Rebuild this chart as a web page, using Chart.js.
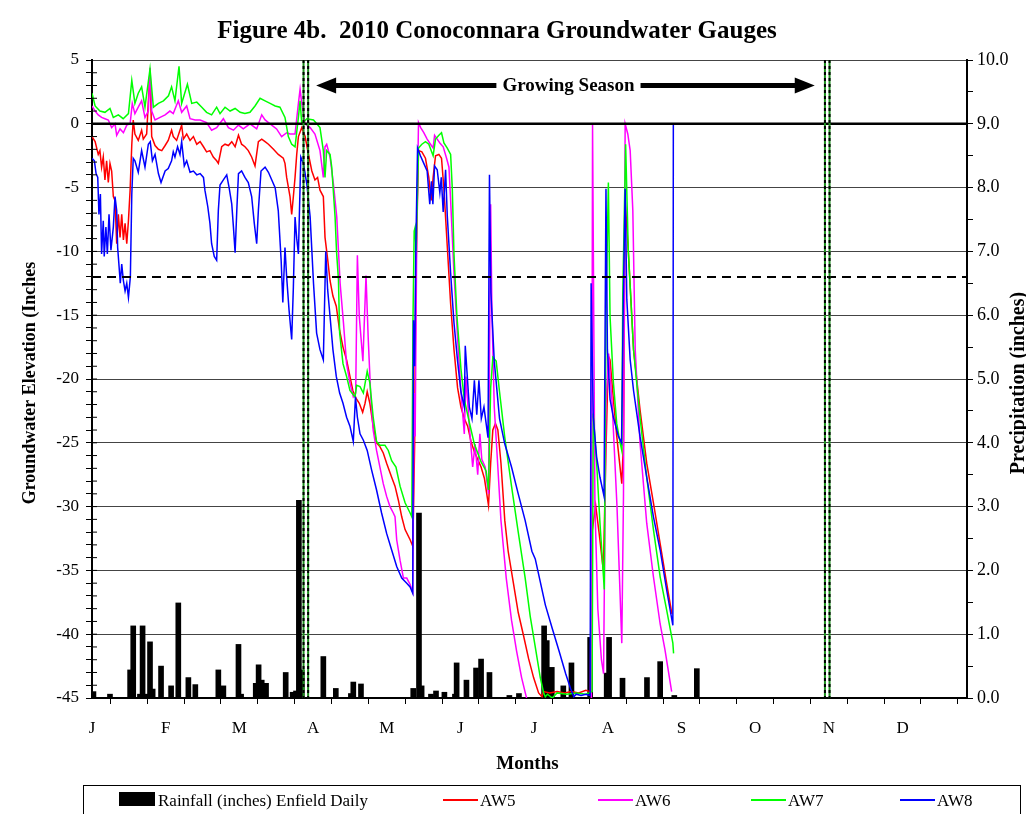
<!DOCTYPE html>
<html>
<head>
<meta charset="utf-8">
<title>Figure 4b. 2010 Conoconnara Groundwater Gauges</title>
<script src="https://cdn.jsdelivr.net/npm/chart.js@4.4.0/dist/chart.umd.min.js"></script>
<style>
  body { margin: 0; background: #fff; }
</style>
</head>
<body>
<canvas id="myChart" width="1026" height="814"></canvas>
<script>
// x = day of 2010 (0 = Jan 1), left axis = groundwater elevation (inches), right axis = rain (inches)
const monthLabels = ['J', 'F', 'M', 'A', 'M', 'J', 'J', 'A', 'S', 'O', 'N', 'D'];
const seriesNames = ['Rainfall (inches) Enfield Daily', 'AW5', 'AW6', 'AW7', 'AW8'];

const rainfall = [[0.6,0.1],[7.5,0.06],[15.9,0.44],[17.2,1.13],[20,0.06],[21.1,1.13],[22.3,0.06],[24.2,0.88],[25.3,0.14],[28.8,0.5],[33,0.19],[36,1.49],[40.2,0.32],[43.1,0.21],[52.7,0.44],[54.8,0.19],[61.1,0.84],[62.2,0.06],[68.3,0.23],[69.5,0.52],[70.8,0.28],[72.6,0.23],[80.8,0.4],[83.7,0.09],[85.1,0.11],[86.3,3.1],[87.5,0.44],[96.5,0.65],[101.7,0.15],[108,0.07],[109,0.25],[112.2,0.22],[134,0.15],[136.4,2.9],[137.5,0.19],[141.4,0.06],[143.5,0.11],[147,0.09],[151.4,0.06],[152.1,0.55],[156.2,0.28],[160.2,0.47],[162.3,0.61],[165.8,0.4],[174.1,0.04],[178.1,0.07],[188.6,1.13],[189.7,0.9],[191.8,0.48],[196.6,0.19],[200,0.55],[207.8,0.95],[214.7,0.39],[215.7,0.95],[221.3,0.31],[231.5,0.32],[237,0.57],[242.9,0.04],[252.3,0.46]];

const aw5 = [[0,-1.0],[1.3,-1.4],[2.6,-2.4],[3.3,-2.1],[4,-3.4],[4.7,-2.6],[5.4,-4.4],[6.1,-2.9],[6.8,-4.6],[7.5,-3.1],[8.2,-3.7],[8.9,-5.7],[9.6,-6.0],[10.3,-9.4],[11,-7.1],[11.7,-8.9],[12.4,-7.1],[13.1,-9.1],[13.8,-7.8],[14.5,-9.4],[15.2,-7.6],[15.9,-5.2],[16.6,-1.6],[17.2,0.3],[17.9,-0.8],[19.3,-1.3],[20.7,-0.5],[21.4,-1.2],[22.8,-0.8],[24.2,4.2],[24.9,-1.0],[26.3,-1.7],[27.7,-2.0],[29.1,-2.1],[30.5,-1.7],[31.8,-1.3],[33.2,-0.5],[33.9,-1.0],[35.3,-1.3],[36.7,-0.5],[37.4,-0.1],[38.1,-1.2],[39.5,-0.8],[40.9,-1.3],[42.3,-1.0],[43.7,-1.6],[45.1,-1.4],[46.5,-1.8],[47.8,-2.2],[49.2,-2.1],[50.6,-2.6],[52,-2.9],[52.7,-3.1],[54.1,-1.8],[55.5,-1.6],[56.9,-1.7],[58.3,-1.4],[59.7,-1.8],[61.1,-0.9],[62.4,-1.6],[63.8,-1.8],[65.2,-2.1],[66.6,-2.6],[68,-3.3],[69.4,-1.4],[70.8,-1.2],[72.2,-1.4],[73.6,-1.6],[75.7,-2.0],[77.7,-2.4],[79.8,-2.7],[80.5,-3.1],[81.2,-4.2],[82.6,-5.7],[83.3,-7.1],[84,-5.7],[84.7,-4.2],[85.4,-2.4],[86.1,-1.0],[87.5,-0.3],[88.9,-1.0],[90.3,-2.4],[91.7,-3.7],[93,-4.4],[94.1,-4.2],[95.1,-5.2],[96.5,-5.7],[97.2,-8.9],[98.3,-10.6],[99.3,-12.3],[100.5,-13.5],[101.9,-14.3],[103.3,-16.2],[104.7,-17.5],[106.2,-18.5],[107.6,-19.8],[108.8,-20.9],[110.1,-21.5],[111.5,-21.9],[112.9,-22.6],[113.9,-21.9],[114.8,-21.0],[115.9,-21.9],[117.3,-23.7],[118.7,-25.0],[120.1,-25.3],[121.5,-25.8],[122.9,-26.6],[125,-27.7],[126.4,-28.4],[127.8,-29.5],[129.2,-30.8],[130.6,-31.8],[132.7,-32.6],[133.8,-33.1],[134.1,-30.3],[134.6,-25.0],[135,-13.0],[136.2,-2.1],[137.6,-2.2],[139.1,-2.7],[140.5,-4.2],[141.5,-6.0],[142.3,-4.2],[143.3,-2.5],[144.7,-2.4],[145.8,-2.7],[146.8,-5.1],[148.2,-9.6],[149.6,-14.1],[151,-17.7],[152.5,-20.7],[153.9,-22.2],[155.3,-23.1],[156.7,-23.7],[158.1,-24.9],[159.5,-25.7],[160.9,-26.3],[162.3,-26.9],[163.7,-27.8],[165.4,-29.9],[166.3,-26.6],[167.2,-24.0],[168.3,-23.5],[169.3,-24.0],[170.6,-26.6],[172.2,-31.1],[173.6,-33.5],[175.7,-35.9],[177.8,-38.3],[180,-40.1],[182.1,-41.9],[184.2,-43.4],[186.3,-44.6],[187.7,-44.9],[188.3,-44.5],[191,-44.6],[194,-44.5],[197,-44.6],[200,-44.5],[203,-44.6],[206,-44.4],[207.8,-44.5],[208.6,-32.0],[210.1,-29.9],[211.5,-32.0],[213.3,-35.0],[214.4,-25.6],[215.4,-18.2],[216.1,-18.5],[217.5,-21.6],[218.9,-24.5],[221,-28.2],[221.7,-25.0],[222.4,-6.0],[223.7,-9.9],[225.9,-17.7],[228.6,-22.4],[231.4,-26.6],[234.2,-29.7],[237,-32.9],[239.7,-36.0],[241.9,-38.4]];

const aw6 = [[0,1.4],[1.3,1.0],[2.6,0.7],[4,0.5],[5.4,0.4],[6.8,0.3],[8.2,-0.3],[9.6,0],[10.3,-0.9],[11.7,-0.4],[13.1,-0.7],[14.5,-0.1],[15.9,0],[16.8,1.6],[17.9,0.8],[19.3,1.3],[20.7,1.8],[22.1,0.5],[23.5,1.0],[24.2,4.4],[24.9,1.0],[26.3,0.3],[28.4,0.5],[30.5,0.7],[32.5,1.0],[33.9,0.8],[36,1.8],[37.4,0.9],[39.5,1.4],[40.9,0.4],[43,0.3],[45.1,0.3],[47.8,0.1],[49.9,-0.5],[52,-0.3],[54.8,0.4],[56.9,-0.3],[59,-0.5],[61.1,-0.1],[63.1,-0.4],[65.9,0],[68.7,-0.4],[70.8,0.7],[72.2,0.3],[74.3,0],[77,-0.4],[79.1,-1.0],[81.2,-0.7],[82.6,-0.8],[84.7,-0.8],[86.1,1.6],[86.8,2.7],[87.5,1.6],[88.9,0],[91,-0.3],[93,-0.8],[95.1,-2.1],[96.5,-4.2],[97.2,-1.8],[97.9,-1.6],[99.3,-2.6],[100.7,-4.7],[102.1,-7.3],[102.8,-9.9],[103.5,-12.5],[104.9,-15.6],[106.2,-18.8],[107.6,-20.3],[109,-21.4],[110,-21.1],[110.7,-10.3],[111.5,-15.1],[113,-18.6],[114.3,-11.9],[115.2,-16.7],[116.3,-21.4],[117.3,-24.0],[118.7,-25.6],[120.1,-26.9],[121.5,-28.2],[122.9,-29.2],[124.3,-30.0],[125.7,-30.5],[126.4,-30.8],[127.1,-32.6],[128.5,-34.2],[129.9,-35.6],[131.3,-35.6],[132.7,-36.1],[133.8,-36.7],[134.4,-21.1],[134.8,-24.5],[135.5,-8.0],[136.2,0.1],[137.1,-0.3],[138.4,-0.7],[139.8,-1.2],[141.2,-1.6],[142.3,-1.9],[142.9,-0.9],[144,-1.2],[145.1,-1.5],[146.5,-1.8],[147.9,-2.7],[148.9,-3.4],[149.6,-6.0],[151,-11.7],[152.5,-16.8],[153.9,-21.0],[155.3,-24.3],[156,-19.8],[157.4,-23.7],[158.8,-26.9],[159.8,-25.1],[160.9,-27.5],[161.8,-24.3],[162.6,-26.3],[164,-26.9],[165.4,-29.0],[166.3,-6.3],[166.8,-14.4],[167.8,-22.2],[169.2,-26.6],[170.6,-31.1],[172.8,-35.6],[175,-38.9],[177.1,-41.3],[179.2,-43.4],[181.4,-45.1],[183.5,-47],[190,-47.5],[200,-47.5],[208.3,-47],[208.8,0],[209.8,-30.0],[211,-38.0],[212.5,-42.0],[213.4,-43.1],[214.4,-22.0],[215.5,-18.0],[217,-22.0],[219,-30.0],[221,-40.7],[221.7,-29.2],[222.4,0],[223.5,-0.8],[224.5,-2.1],[225.6,-6.8],[226.6,-17.7],[228.6,-25.0],[231.4,-31.3],[234.2,-35.5],[237,-39.2],[239,-41.2],[241.8,-44.5]];

const aw7 = [[0,2.4],[1.3,1.4],[3.3,1.0],[5.4,0.9],[7.5,1.2],[8.9,0.5],[11,0.7],[13,0.4],[15.2,0.8],[16.6,3.4],[17.9,1.6],[19.3,2.4],[20.7,2.9],[22.1,1.3],[24.2,4.3],[25.6,1.3],[27.7,1.6],[29.8,1.8],[31.9,2.2],[33.2,2.9],[34.6,1.8],[36.3,4.5],[37.4,1.6],[39.8,3.1],[41.6,1.6],[43.7,1.7],[45.8,1.3],[47.8,0.9],[49.9,0.7],[52,1.3],[53.4,0.8],[55.5,1.3],[57.6,1.0],[59.7,1.2],[61.8,0.9],[63.8,0.8],[65.9,0.9],[68,1.4],[70.1,2.0],[72.2,1.8],[74.3,1.6],[76.4,1.4],[78.4,1.3],[80.5,0.5],[81.9,-1.0],[83.3,-1.6],[84.7,-1.8],[86.1,0.5],[86.8,1.8],[87.5,0],[89.6,0.4],[92.4,0.3],[95.1,-0.3],[96.5,-2.1],[97.2,-4.2],[97.9,-2.1],[99.3,-2.4],[100,-3.4],[101.4,-7.3],[102,-10.0],[102.8,-12.2],[103.3,-16.4],[104.7,-18.8],[106.2,-19.8],[107.6,-20.9],[109.7,-21.4],[110.4,-20.5],[111.8,-20.6],[113.2,-21.1],[114.8,-19.4],[115.9,-20.3],[117.3,-23.0],[118.7,-24.9],[120.1,-25.2],[122.2,-25.2],[123.6,-25.6],[125,-26.4],[126.8,-26.9],[128.5,-28.4],[130.6,-29.7],[132.7,-30.5],[133.4,-30.8],[133.9,-15.3],[134.4,-8.4],[134.8,-8.1],[135.2,-10.0],[136.2,-1.9],[137.6,-1.6],[139.1,-1.4],[140.5,-1.6],[142.3,-2.5],[143.3,-1.2],[144.7,-0.9],[145.8,-0.7],[146.8,-1.5],[148.2,-1.9],[149.6,-2.4],[150.3,-5.1],[151,-10.2],[152.2,-15.0],[153.9,-19.2],[155.3,-21.6],[157.4,-23.4],[159.5,-25.1],[162.3,-26.5],[164.4,-27.2],[165.4,-28.7],[166.3,-20.7],[167.2,-18.3],[168.6,-18.6],[170,-21.0],[172.2,-24.6],[175,-28.4],[177.8,-32.0],[180.7,-35.6],[182.8,-38.6],[184.9,-41.0],[187,-43.4],[188.4,-44.6],[189.1,-44.9],[190,-44.7],[192,-45.0],[194,-44.6],[198,-44.7],[202,-44.6],[206,-44.7],[208.6,-44.5],[209.1,-22.7],[210.6,-26.9],[211.9,-31.3],[213.7,-36.5],[214.4,-15.0],[215.4,-4.6],[216.1,-15.1],[217.5,-20.3],[218.9,-23.5],[220.3,-25.0],[221,-25.6],[221.4,-13.5],[222.6,-1.6],[223.7,-9.9],[225.9,-17.7],[228.6,-23.0],[231.4,-27.7],[234.2,-31.8],[237,-35.5],[239.7,-38.1],[242.3,-40.7],[242.6,-41.5]];

const aw8 = [[0,-2.7],[1,-2.9],[1.7,-3.9],[2.4,-4.2],[2.9,-7.1],[3.5,-5.5],[4,-10.2],[4.7,-7.6],[5.1,-10.4],[5.8,-8.1],[6.4,-10.2],[7.1,-7.1],[7.9,-9.9],[8.9,-8.1],[9.6,-5.7],[10.3,-6.8],[10.7,-9.7],[11.3,-11.2],[11.8,-12.5],[12.4,-11.0],[13.1,-12.3],[13.8,-13.1],[14.5,-12.5],[15.2,-13.6],[16,-12.0],[16.6,-5.5],[17.2,-2.7],[17.9,-2.9],[19.3,-3.8],[20.7,-2.1],[22.1,-3.4],[23.5,-1.6],[24.3,-1.4],[25.2,-2.9],[26.3,-2.4],[27.7,-3.9],[28.8,-4.6],[30.5,-3.7],[31.8,-3.5],[33.2,-2.9],[33.9,-2.2],[34.6,-2.6],[35.7,-1.8],[36.7,-2.4],[37.4,-1.4],[38.5,-3.3],[39.5,-2.9],[40.9,-3.8],[42.3,-3.7],[43.7,-4.0],[45.1,-3.9],[46.5,-4.2],[47.1,-5.2],[48.3,-6.5],[49.2,-7.8],[49.9,-9.4],[51,-10.4],[52,-10.7],[52.7,-6.8],[53.4,-4.8],[54.8,-4.4],[56.2,-4.0],[57.2,-5.0],[58.3,-6.3],[59,-8.1],[59.7,-10.1],[60.4,-6.8],[61.1,-3.9],[62.4,-3.7],[63.8,-4.2],[65.2,-4.6],[66.6,-5.7],[67.7,-7.8],[68.7,-9.4],[69.4,-6.8],[70.5,-3.7],[72.2,-3.4],[73.6,-3.8],[75,-4.4],[76.4,-5.0],[77.7,-6.8],[78.9,-10.7],[79.6,-14.0],[80.5,-9.7],[81.2,-12.0],[82.2,-14.6],[83.3,-16.9],[84,-12.8],[84.7,-7.3],[85.4,-9.0],[86.1,-10.2],[87.1,-2.6],[88.2,-3.1],[89.6,-4.7],[91,-7.3],[91.7,-9.9],[92.4,-12.5],[93.7,-16.4],[95.1,-17.7],[96.5,-18.5],[97.5,-10.0],[98.3,-13.0],[99.3,-15.1],[100.5,-17.7],[101.9,-19.8],[103.3,-21.1],[104.7,-21.9],[106.2,-23.0],[107.6,-23.7],[109,-24.9],[109.9,-21.4],[110.7,-23.0],[111.8,-24.3],[113.2,-24.8],[114.8,-25.6],[116.6,-27.1],[118.7,-28.7],[120.8,-30.5],[122.9,-32.1],[125,-33.4],[127.1,-34.7],[129.2,-35.6],[131.3,-36.0],[132.7,-36.3],[133.8,-36.8],[134.1,-15.4],[134.6,-19.0],[135.1,-9.6],[135.8,-1.9],[137,-2.5],[138.4,-3.1],[139.8,-3.7],[140.9,-6.3],[141.6,-4.5],[142.2,-6.3],[142.9,-3.3],[144,-3.6],[145.1,-5.4],[145.7,-4.2],[146.5,-6.9],[147.5,-3.6],[148.2,-7.2],[149.6,-11.7],[151,-15.6],[152.5,-18.6],[153.9,-21.0],[155.3,-22.2],[155.7,-17.4],[157.4,-22.2],[158.5,-23.1],[159.5,-20.1],[160.5,-22.8],[161.4,-20.1],[162.4,-23.1],[163.5,-22.2],[165.2,-24.6],[165.8,-4.0],[166.4,-13.2],[167.8,-18.6],[170,-23.1],[172.2,-25.1],[175,-26.9],[177.8,-29.0],[180.7,-31.1],[183.5,-33.5],[184.9,-34.1],[187,-35.9],[189.1,-37.7],[191.9,-39.5],[194.8,-41.3],[197.6,-43.1],[199.7,-44.3],[201,-44.9],[202,-44.7],[204,-44.8],[206,-44.7],[207.8,-44.8],[208.2,-12.5],[209.1,-23.0],[210.5,-26.1],[211.9,-27.7],[213.6,-29.2],[214.4,-5.1],[215,-17.7],[216.1,-21.6],[217.5,-23.0],[219.6,-24.5],[220.9,-25.0],[221.6,-14.3],[222.4,-5.1],[223.1,-13.8],[224.5,-18.5],[225.9,-20.9],[228.6,-24.5],[231.4,-27.7],[234.2,-30.8],[237,-33.4],[239.7,-36.5],[242.3,-39.3],[242.5,0]];

// reference lines (left axis values / days)
const zeroLine = 0;
const targetLevel = -12;
const seasonBounds = [89.2, 306.7];
const seasonArrow = [93.5, 301.5];
const arrowLevel = 3;

const serif = '"Liberation Serif", "Times New Roman", serif';
const halfMonth = 365 / 23.75;
const xTicks = [];
for (let i = 0; i <= 23; i++) xTicks.push(i * halfMonth);

const toPoints = arr => arr.map(p => ({ x: p[0], y: p[1] }));

const lineSet = (label, data, color, order) => ({
    type: 'line',
    label: label,
    data: toPoints(data),
    borderColor: color,
    backgroundColor: color,
    borderWidth: 1.5,
    pointRadius: 0,
    tension: 0,
    fill: false,
    yAxisID: 'y',
    order: order
});

const decor = {
    id: 'decor',
    afterDatasetsDraw(chart) {
        const c = chart.ctx, a = chart.chartArea;
        const x = chart.scales.x, y = chart.scales.y;
        c.save();
        c.strokeStyle = '#000';
        c.lineWidth = 2.5;
        const y0 = y.getPixelForValue(zeroLine);
        c.beginPath(); c.moveTo(a.left, y0); c.lineTo(a.right, y0); c.stroke();

        const yd = y.getPixelForValue(targetLevel);
        c.lineWidth = 2;
        c.setLineDash([9, 6]);
        c.beginPath(); c.moveTo(a.left, yd); c.lineTo(a.right, yd); c.stroke();
        c.setLineDash([]);

        seasonBounds.forEach(d => {
            const px = x.getPixelForValue(d);
            [-2.3, 2.3].forEach(off => {
                c.strokeStyle = '#1f8f1f';
                c.lineWidth = 2;
                c.beginPath(); c.moveTo(px + off, a.top); c.lineTo(px + off, a.bottom); c.stroke();
                c.strokeStyle = '#000';
                c.setLineDash([3, 3]);
                c.beginPath(); c.moveTo(px + off, a.top); c.lineTo(px + off, a.bottom); c.stroke();
                c.setLineDash([]);
            });
        });

        // growing season arrow
        const ay = y.getPixelForValue(arrowLevel);
        const x1 = x.getPixelForValue(seasonArrow[0]);
        const x2 = x.getPixelForValue(seasonArrow[1]);
        c.fillStyle = '#000';
        c.lineWidth = 5;
        c.beginPath(); c.moveTo(x1 + 18, ay); c.lineTo(x2 - 18, ay); c.stroke();
        c.beginPath(); c.moveTo(x1, ay); c.lineTo(x1 + 20, ay - 8); c.lineTo(x1 + 20, ay + 8); c.closePath(); c.fill();
        c.beginPath(); c.moveTo(x2, ay); c.lineTo(x2 - 20, ay - 8); c.lineTo(x2 - 20, ay + 8); c.closePath(); c.fill();
        c.font = 'bold 19px ' + serif;
        const txt = 'Growing Season';
        const w = c.measureText(txt).width;
        const cx = (x1 + x2) / 2 + 3;
        c.fillStyle = '#fff';
        c.fillRect(cx - w / 2 - 6, ay - 11, w + 12, 22);
        c.fillStyle = '#000';
        c.textAlign = 'center';
        c.textBaseline = 'middle';
        c.fillText(txt, cx, ay + 1);

        // short inner tick marks on the left axis, as in the original
        c.strokeStyle = '#000';
        c.lineWidth = 1;
        for (let v = -44; v <= 4; v++) {
            const py = y.getPixelForValue(v);
            c.beginPath(); c.moveTo(a.left, py); c.lineTo(a.left + 5, py); c.stroke();
        }
        c.restore();
    },
    afterDraw(chart) {
        const c = chart.ctx, a = chart.chartArea;
        c.save();
        c.fillStyle = '#000';
        c.textAlign = 'center';
        c.textBaseline = 'middle';
        c.font = 'bold 25px ' + serif;
        c.fillText('Figure 4b.  2010 Conoconnara Groundwater Gauges', 497, 32);

        c.font = 'bold 19px ' + serif;
        c.fillText('Months', (a.left + a.right) / 2 - 2, 764);

        const midY = (a.top + a.bottom) / 2 + 4;
        c.save();
        c.translate(30, midY);
        c.rotate(-Math.PI / 2);
        c.font = 'bold 18px ' + serif;
        c.fillText('Groundwater Elevation (Inches', 0, 0);
        c.restore();
        c.save();
        c.translate(1019, midY);
        c.rotate(-Math.PI / 2);
        c.font = 'bold 20px ' + serif;
        c.fillText('Precipitation (inches)', 0, 0);
        c.restore();

        // legend box
        c.strokeStyle = '#000';
        c.lineWidth = 1;
        c.strokeRect(83.5, 785.5, 937, 40);
        c.font = '17px ' + serif;
        c.textAlign = 'left';
        c.fillRect(119, 792, 36, 14);
        c.fillText(seriesNames[0], 158, 802);
        const items = [[443, chart.data.datasets[1]], [598, chart.data.datasets[2]], [751, chart.data.datasets[3]], [900, chart.data.datasets[4]]];
        items.forEach(([lx, ds]) => {
            c.strokeStyle = ds.borderColor;
            c.lineWidth = 2;
            c.beginPath(); c.moveTo(lx, 800); c.lineTo(lx + 35, 800); c.stroke();
            c.fillStyle = '#000';
            c.fillText(ds.label, lx + 37, 802);
        });
        c.restore();
    }
};

const ctx = document.getElementById('myChart').getContext('2d');
const myChart = new Chart(ctx, {
    type: 'line',
    data: {
        datasets: [
            {
                type: 'bar',
                label: seriesNames[0],
                data: toPoints(rainfall),
                backgroundColor: '#000',
                barThickness: 5,
                yAxisID: 'y2',
                order: 5
            },
            lineSet(seriesNames[1], aw5, '#ff0000', 4),
            lineSet(seriesNames[2], aw6, '#ff00ff', 3),
            lineSet(seriesNames[3], aw7, '#00ff00', 2),
            lineSet(seriesNames[4], aw8, '#0000ff', 1)
        ]
    },
    options: {
        responsive: false,
        animation: false,
        events: [],
        layout: { padding: { top: 60, bottom: 76, left: 0, right: 0 } },
        plugins: {
            legend: { display: false },
            title: { display: false },
            tooltip: { enabled: false }
        },
        scales: {
            x: {
                type: 'linear',
                min: 0,
                max: 365,
                offset: false,
                afterBuildTicks: scale => { scale.ticks = xTicks.map(v => ({ value: v })); },
                afterFit: scale => { scale.height = 40; },
                ticks: {
                    autoSkip: false,
                    maxRotation: 0,
                    padding: 14,
                    color: '#000',
                    font: { family: serif, size: 17 },
                    callback: (value, index) => index % 2 === 0 ? monthLabels[index / 2] : ''
                },
                grid: { drawOnChartArea: false, tickLength: 6, tickColor: '#000' },
                border: { color: '#000', width: 2 }
            },
            y: {
                type: 'linear',
                position: 'left',
                min: -45,
                max: 5,
                afterFit: scale => { scale.width = 92; },
                ticks: {
                    stepSize: 1,
                    autoSkip: false,
                    padding: 7,
                    color: '#000',
                    font: { family: serif, size: 17 },
                    callback: v => (Math.abs(v % 5) < 1e-6 ? v : '')
                },
                grid: {
                    color: c => (c.tick && Math.abs(c.tick.value % 5) < 1e-6 ? '#444' : 'rgba(0,0,0,0)'),
                    lineWidth: 1,
                    tickLength: 6,
                    tickColor: '#000'
                },
                border: { color: '#000', width: 2 }
            },
            y2: {
                type: 'linear',
                position: 'right',
                min: 0,
                max: 10,
                afterFit: scale => { scale.width = 59; },
                ticks: {
                    stepSize: 0.5,
                    autoSkip: false,
                    padding: 4,
                    color: '#000',
                    font: { family: serif, size: 18 },
                    callback: v => (Math.abs(v % 1) < 1e-6 ? v.toFixed(1) : '')
                },
                grid: { drawOnChartArea: false, tickLength: 6, tickColor: '#000' },
                border: { color: '#000', width: 2 }
            }
        }
    },
    plugins: [decor]
});
</script>
</body>
</html>
